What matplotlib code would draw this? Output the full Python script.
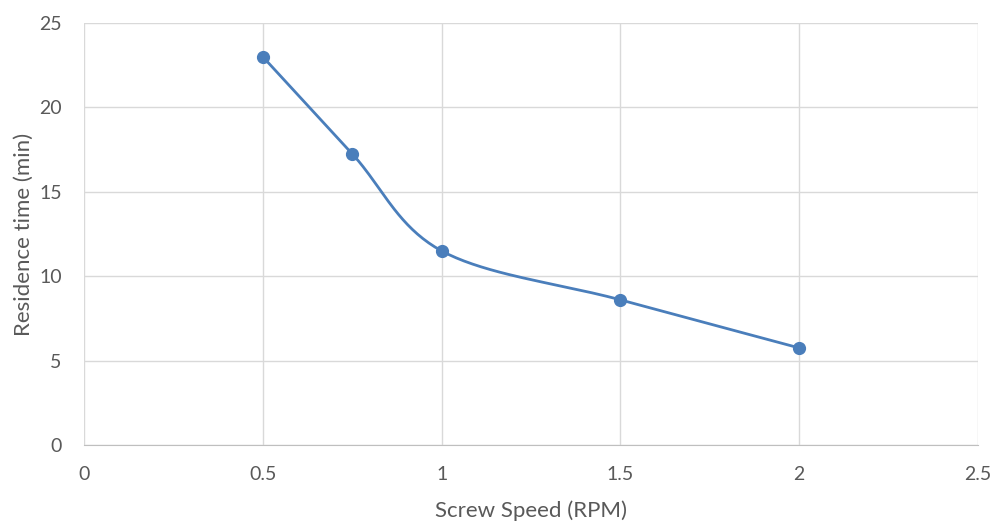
import numpy as np
import matplotlib
matplotlib.use("Agg")
import matplotlib.pyplot as plt

speed = [0.5, 0.75, 1.0, 1.5, 2.0]
residence = [23.0, 17.25, 11.5, 8.6, 5.75]
xticks = [0, 0.5, 1, 1.5, 2, 2.5]
xtick_labels = ["0", "0.5", "1", "1.5", "2", "2.5"]
yticks = [0, 5, 10, 15, 20, 25]

plt.rcParams['font.family'] = ['Lato', 'DejaVu Sans']

fig = plt.figure(figsize=(9.95, 5.22), dpi=100)
ax = fig.add_axes([84/995, 1-445/522, (978-84)/995, (445-23)/522])
ax.set_xlim(0, 2.5)
ax.set_ylim(0, 25)

# Excel-like smoothing (Catmull-Rom Bezier in pixel space)
xs = np.array(speed) / 2.5 * 894
ys = np.array(residence) / 25 * 422
pts = np.column_stack([xs, ys])
curve = []
n = len(pts)
for i in range(n - 1):
    p0 = pts[i - 1] if i > 0 else pts[i]
    p1 = pts[i]
    p2 = pts[i + 1]
    p3 = pts[i + 2] if i + 2 < n else pts[i + 1]
    c1 = p1 + (p2 - p0) / 6
    c2 = p2 - (p3 - p1) / 6
    t = np.linspace(0, 1, 40)[:, None]
    seg = ((1 - t) ** 3) * p1 + 3 * ((1 - t) ** 2) * t * c1 + 3 * (1 - t) * t ** 2 * c2 + t ** 3 * p2
    curve.append(seg if i == 0 else seg[1:])
curve = np.vstack(curve)
ax.plot(curve[:, 0] / 894 * 2.5, curve[:, 1] / 422 * 25, color='#4A7EBB', lw=2.0, zorder=3)
ax.plot(speed, residence, 'o', color='#4A7EBB', ms=8.5, zorder=4)

ax.set_xticks(xticks)
ax.set_xticklabels(xtick_labels)
ax.set_yticks(yticks)
ax.grid(True, color='#D9D9D9', lw=1)
ax.set_axisbelow(True)
for s in ['top', 'right', 'left']:
    ax.spines[s].set_visible(False)
ax.spines['bottom'].set_color('#BFBFBF')
ax.tick_params(length=0, labelsize=14, colors='#595959')
ax.tick_params(axis='x', pad=15)
ax.tick_params(axis='y', pad=16)
ax.set_xlabel('Screw Speed (RPM)', fontsize=16, color='#595959', labelpad=13)
ax.set_ylabel('Residence time (min)', fontsize=16, color='#595959', labelpad=4)

fig.savefig('out.png', dpi=100)
